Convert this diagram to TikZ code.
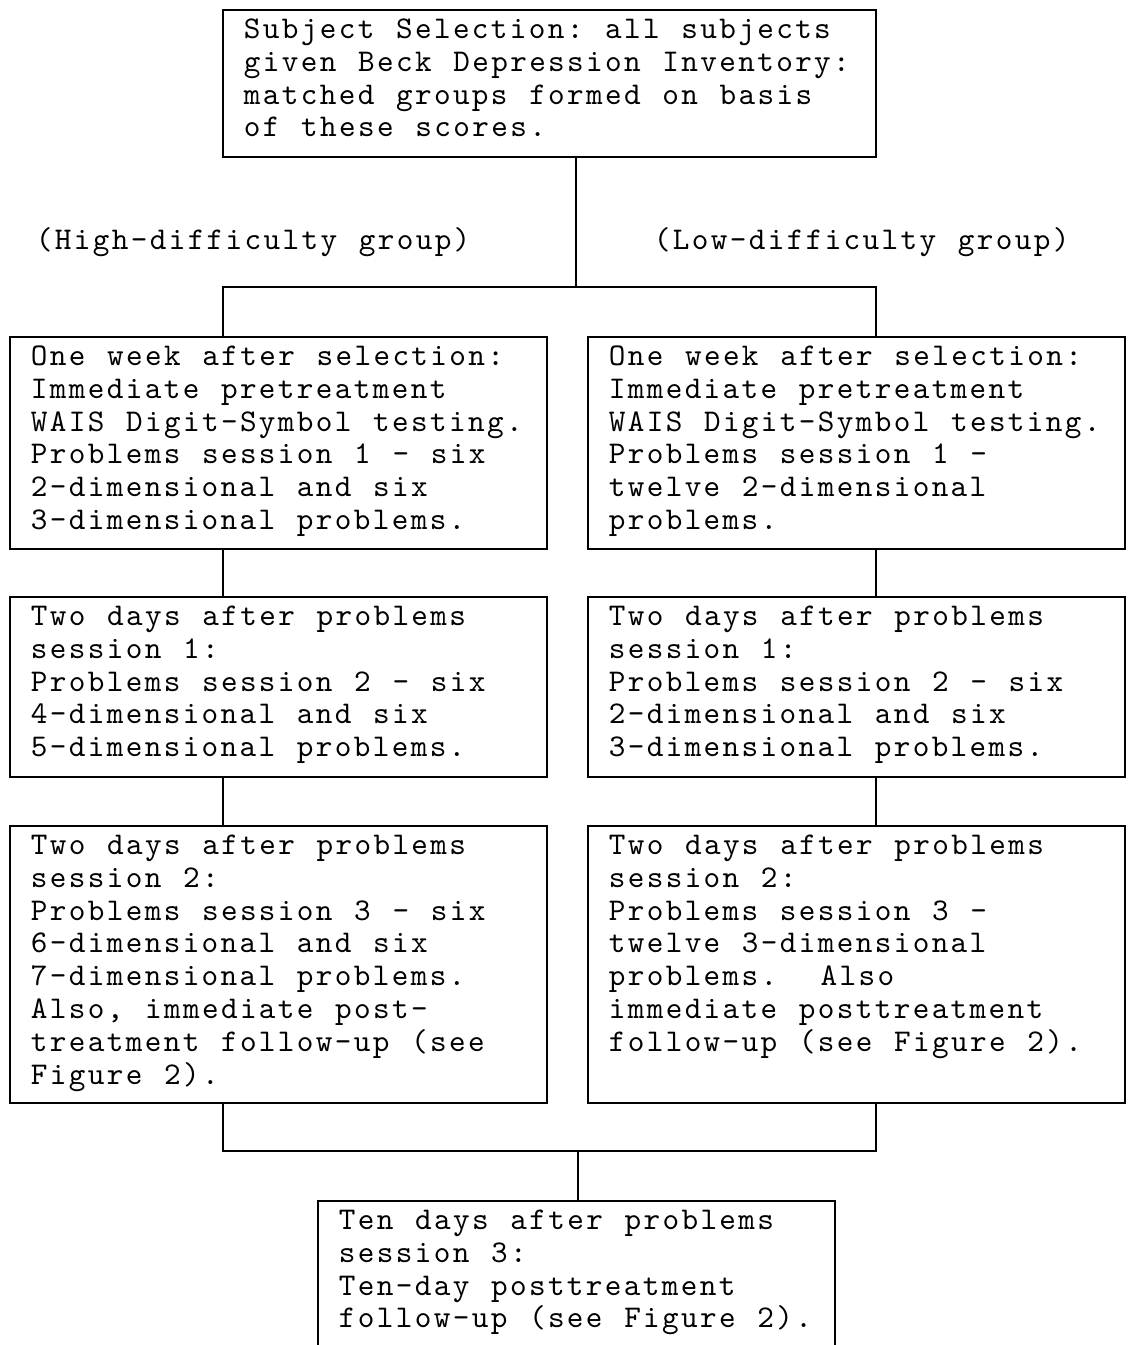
\documentclass[tikz,border=0pt]{standalone}
\usepackage{fontspec}
\usepackage{tikz}
\usetikzlibrary{positioning}
\newfontfamily\flowfont{lmmono10-regular.otf}[LetterSpace=7.5,WordSpace={1.143,0,0}]
\newcommand{\firstln}{\rule{0pt}{15.6pt}}

\begin{document}
\begin{tikzpicture}[%
    x=0.02cm,y=-0.02cm,line width=1.1pt,
    stage/.style={draw,anchor=north west,outer sep=0pt,inner sep=0pt,
      minimum width=10.74cm},
    words/.style={anchor=north west,inner sep=0pt,align=left,
      font=\flowfont\fontsize{18}{18.7}\selectfont\frenchspacing}
  ]
    \useasboundingbox (0,0) rectangle (1127,1345);
    \clip (0,0) rectangle (1127,1345);

    % boxes
    \node[stage,minimum width=13.06cm,minimum height=2.94cm] (sel) at (223,10) {};
    \node[stage,minimum height=4.24cm] (hiA) at (10,337) {};
    \node[stage,minimum height=3.6cm] (hiB) [below=0.96cm of hiA] {};
    \node[stage,minimum height=5.54cm] (hiC) [below=0.98cm of hiB] {};
    \node[stage,minimum height=4.24cm] (loA) [right=0.82cm of hiA] {};
    \node[stage,minimum height=3.6cm] (loB) [right=0.82cm of hiB] {};
    \node[stage,minimum height=5.54cm] (loC) [right=0.82cm of hiC] {};
    \node[stage,minimum width=10.34cm,minimum height=3.2cm] (final) at (318,1201) {};

    % texts
    \node[words] (selText) at ([xshift=0.4cm]sel.north west) {\firstln Subject Selection: all subjects\\
      given Beck Depression Inventory:\\matched groups formed on basis\\of these scores.};
    \node[words,anchor=base west] (hiLabel) at (35,249) {(High-difficulty group)};
    \node[words,anchor=base west] (loLabel) at (653,249) {(Low-difficulty group)};
    \node[words] (hiAText) at ([xshift=0.4cm]hiA.north west) {\firstln One week after selection:\\
      Immediate pretreatment\\WAIS Digit-Symbol testing.\\Problems session 1 - six\\
      2-dimensional and six\\3-dimensional problems.};
    \node[words] (loAText) at ([xshift=0.4cm]loA.north west) {\firstln One week after selection:\\
      Immediate pretreatment\\WAIS Digit-Symbol testing.\\Problems session 1 -\\
      twelve 2-dimensional\\problems.};
    \node[words] (hiBText) at ([xshift=0.4cm]hiB.north west) {\firstln Two days after problems\\
      session 1:\\Problems session 2 - six\\4-dimensional and six\\5-dimensional problems.};
    \node[words] (loBText) at ([xshift=0.4cm]loB.north west) {\firstln Two days after problems\\
      session 1:\\Problems session 2 - six\\2-dimensional and six\\3-dimensional problems.};
    \node[words] (hiCText) at ([xshift=0.4cm]hiC.north west) {\firstln Two days after problems\\
      session 2:\\Problems session 3 - six\\6-dimensional and six\\7-dimensional problems.\\
      Also, immediate post-\\treatment follow-up (see\\Figure 2).};
    \node[words] (loCText) at ([xshift=0.4cm]loC.north west) {\firstln Two days after problems\\
      session 2:\\Problems session 3 -\\twelve 3-dimensional\\problems.~~Also\\
      immediate posttreatment\\follow-up (see Figure 2).};
    \node[words] (finalText) at ([xshift=0.4cm]final.north west) {\firstln Ten days after problems\\
      session 3:\\Ten-day posttreatment\\follow-up (see Figure 2).};

    % connectors
    \coordinate (split) at (576,287);
    \coordinate (join) at (578,1151);
    \draw (sel.south -| split) -- (split);
    \draw (hiA.north -| sel.west) -- (sel.west |- split) -- (sel.east |- split) -- (loA.north -| sel.east);
    \draw (hiA.south -| sel.west) -- (hiB.north -| sel.west);
    \draw (hiB.south -| sel.west) -- (hiC.north -| sel.west);
    \draw (loA.south -| sel.east) -- (loB.north -| sel.east);
    \draw (loB.south -| sel.east) -- (loC.north -| sel.east);
    \draw (hiC.south -| sel.west) -- (sel.west |- join) -- (sel.east |- join) -- (loC.south -| sel.east);
    \draw (join) -- (final.north -| join);
  \end{tikzpicture}
\end{document}
